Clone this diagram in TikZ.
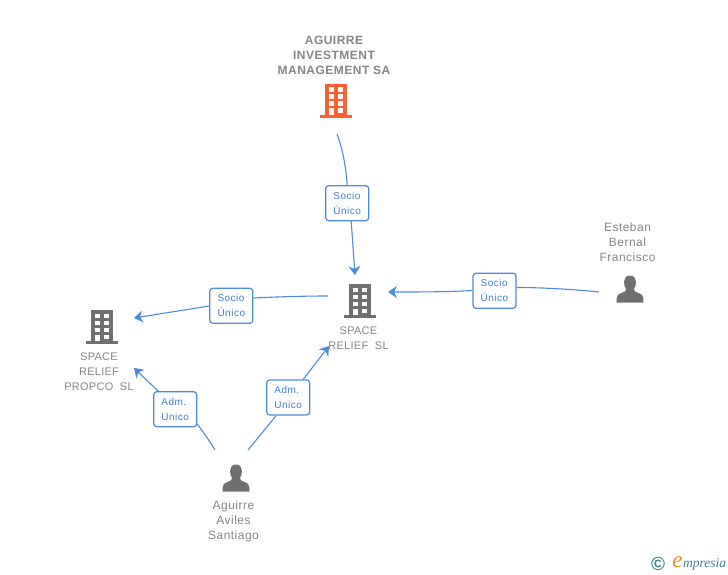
\documentclass[tikz,border=0pt]{standalone}
\usepackage{fontspec}
\setmainfont{Liberation Sans}
\newfontfamily\nodefont[LetterSpace=4]{Liberation Sans}
\newfontfamily\companyfont[LetterSpace=2.5]{Liberation Sans}
\newfontfamily\nodefontb[LetterSpace=4]{Liberation Sans Bold}
\newfontfamily\edgefont[LetterSpace=5]{Liberation Sans}
\newfontfamily\logofont{Liberation Serif Italic}
\newfontfamily\copyfont{Liberation Sans Bold}
\usetikzlibrary{arrows.meta,calc}
\definecolor{linkblue}{HTML}{4A8AE0}
\definecolor{linktext}{HTML}{3F7FDC}
\definecolor{labelgray}{HTML}{858585}
\definecolor{icongray}{HTML}{707070}
\definecolor{iconorange}{HTML}{FF5F2E}
\definecolor{logoteal}{HTML}{3D7F96}
\definecolor{logoorange}{HTML}{F08A1E}
\tikzset{
  x=1pt,y=-1pt,
  entity/.style={text=labelgray,align=center,inner sep=0pt,font=\nodefont\fontsize{12}{15}\selectfont},
  company/.style={entity,font=\companyfont\fontsize{11}{15}\selectfont},
  entitybold/.style={entity,font=\nodefontb\fontsize{12}{15}\selectfont},
  relbox/.style={draw=linkblue,line width=1.2pt,fill=white,rounded corners=3pt,minimum width=43pt,minimum height=35pt,
    inner sep=0pt,align=left,text=linktext,font=\edgefont\fontsize{10}{15}\selectfont},
  link/.style={draw=linkblue,line width=1.1pt},
  linkarrow/.style={link,-{Stealth[length=9pt,width=12pt,inset=3pt]}},
  pics/building/.style={code={
    \fill[#1] (-11,-17) rectangle (11,14);
    \fill[#1] (-16,14) rectangle (16,17);
    \foreach \wy in {-13.5,-6.5,0.5}{
      \fill[white] (-7.2,\wy) rectangle (-2.4,\wy+4.2);
      \fill[white] (2.2,\wy) rectangle (7,\wy+4.2);
    }
    \fill[white] (-7.2,7.5) rectangle (-2.4,14);
    \fill[white] (2.2,7.5) rectangle (7,12);
  }},
  pics/person/.style={code={
    \fill[icongray] (0,-13.5) .. controls (-4.3,-13.5) and (-6,-10) .. (-6,-7)
      .. controls (-6,-4) and (-5,-1.5) .. (-4,0)
      .. controls (-4,2.2) and (-5,2.8) .. (-8,3.8)
      .. controls (-12.3,5.2) and (-13.5,6.5) .. (-13.5,13.5)
      -- (13.5,13.5)
      .. controls (13.5,6.5) and (12.3,5.2) .. (8,3.8)
      .. controls (5,2.8) and (4,2.2) .. (4,0)
      .. controls (5,-1.5) and (6,-4) .. (6,-7)
      .. controls (6,-10) and (4.3,-13.5) .. (0,-13.5) -- cycle;
  }}
}
\begin{document}
\begin{tikzpicture}
\useasboundingbox (0,0) rectangle (728,575);
% icons
\pic at (336,101) {building=iconorange};
\pic at (360,301) {building=icongray};
\pic at (102,327) {building=icongray};
\pic at (236,478) {person};
\pic at (630,289) {person};
% entity labels
\node[entitybold] (aim) at (334,55) {AGUIRRE\\INVESTMENT\\MANAGEMENT SA};
\node[company] (srl) at (358.5,338) {SPACE\\RELIEF\ \ SL};
\node[company] (srp) at (99,371.5) {SPACE\\RELIEF\\PROPCO\ \ SL};
\node[entity] (aas) at (233.5,521.5) {Aguirre\\Aviles\\Santiago};
\node[entity] (ebf) at (627.5,242) {Esteban\\Bernal\\Francisco};
% relation boxes
\node[relbox] (btop) at (347.2,203.2) {Socio\\Único};
\node[relbox] (bleft) at (231.3,305.8) {Socio\\Único};
\node[relbox] (bright) at (494.5,290.8) {Socio\\Único};
\node[relbox] (badml) at (175.2,409.2) {Adm.\\Unico};
\node[relbox] (badmr) at (288.2,397.5) {Adm.\\Unico};
% connector free ends
\coordinate (topfrom) at (337,134);
\coordinate (topto) at (355,275);
\coordinate (leftfrom) at (328,296);
\coordinate (leftto) at (134,318);
\coordinate (rightfrom) at (599,292);
\coordinate (rightto) at (388,292);
\coordinate (admlfrom) at (215,450);
\coordinate (admlto) at (134,368);
\coordinate (admrfrom) at (248,450);
\coordinate (admrto) at (329,346);
% connectors
\draw[link] (topfrom) .. controls (343,150) and (346,168) .. (btop.north);
\draw[linkarrow] ($(btop.south)+(4,0)$) -- (topto);
\draw[link] (leftfrom) .. controls (300,296) and (275,297) .. (bleft.east |- 0,298);
\draw[linkarrow] (bleft.west |- 0,306) -- (leftto);
\draw[link] (rightfrom) .. controls (570,289) and (540,287.5) .. (bright.east |- 0,287.5);
\draw[linkarrow] (bright.west |- 0,290.5) .. controls (445,292) and (420,292) .. (rightto);
\draw[link] (admlfrom) .. controls (209,440) and (203,432) .. (badml.east |- 0,424);
\draw[linkarrow] ($(badml.north)+(-17,0)$) -- (admlto);
\draw[link] (admrfrom) -- ($(badmr.south)+(-12,0)$);
\draw[linkarrow] ($(badmr.north)+(15,0)$) -- (admrto);
% watermark
\node[inner sep=0pt,text=logoteal,font=\copyfont\fontsize{19}{19}\selectfont] (copyr) at (658,564) {©};
\node[inner sep=0pt,text=logoorange,font=\logofont\fontsize{23}{23}\selectfont] (logoe) at (677.5,562) {e};
\node[inner sep=0pt,text=logoteal,anchor=west,font=\logofont\fontsize{13.5}{14}\selectfont] (logot) at (683,564) {mpresia};
\end{tikzpicture}
\end{document}
